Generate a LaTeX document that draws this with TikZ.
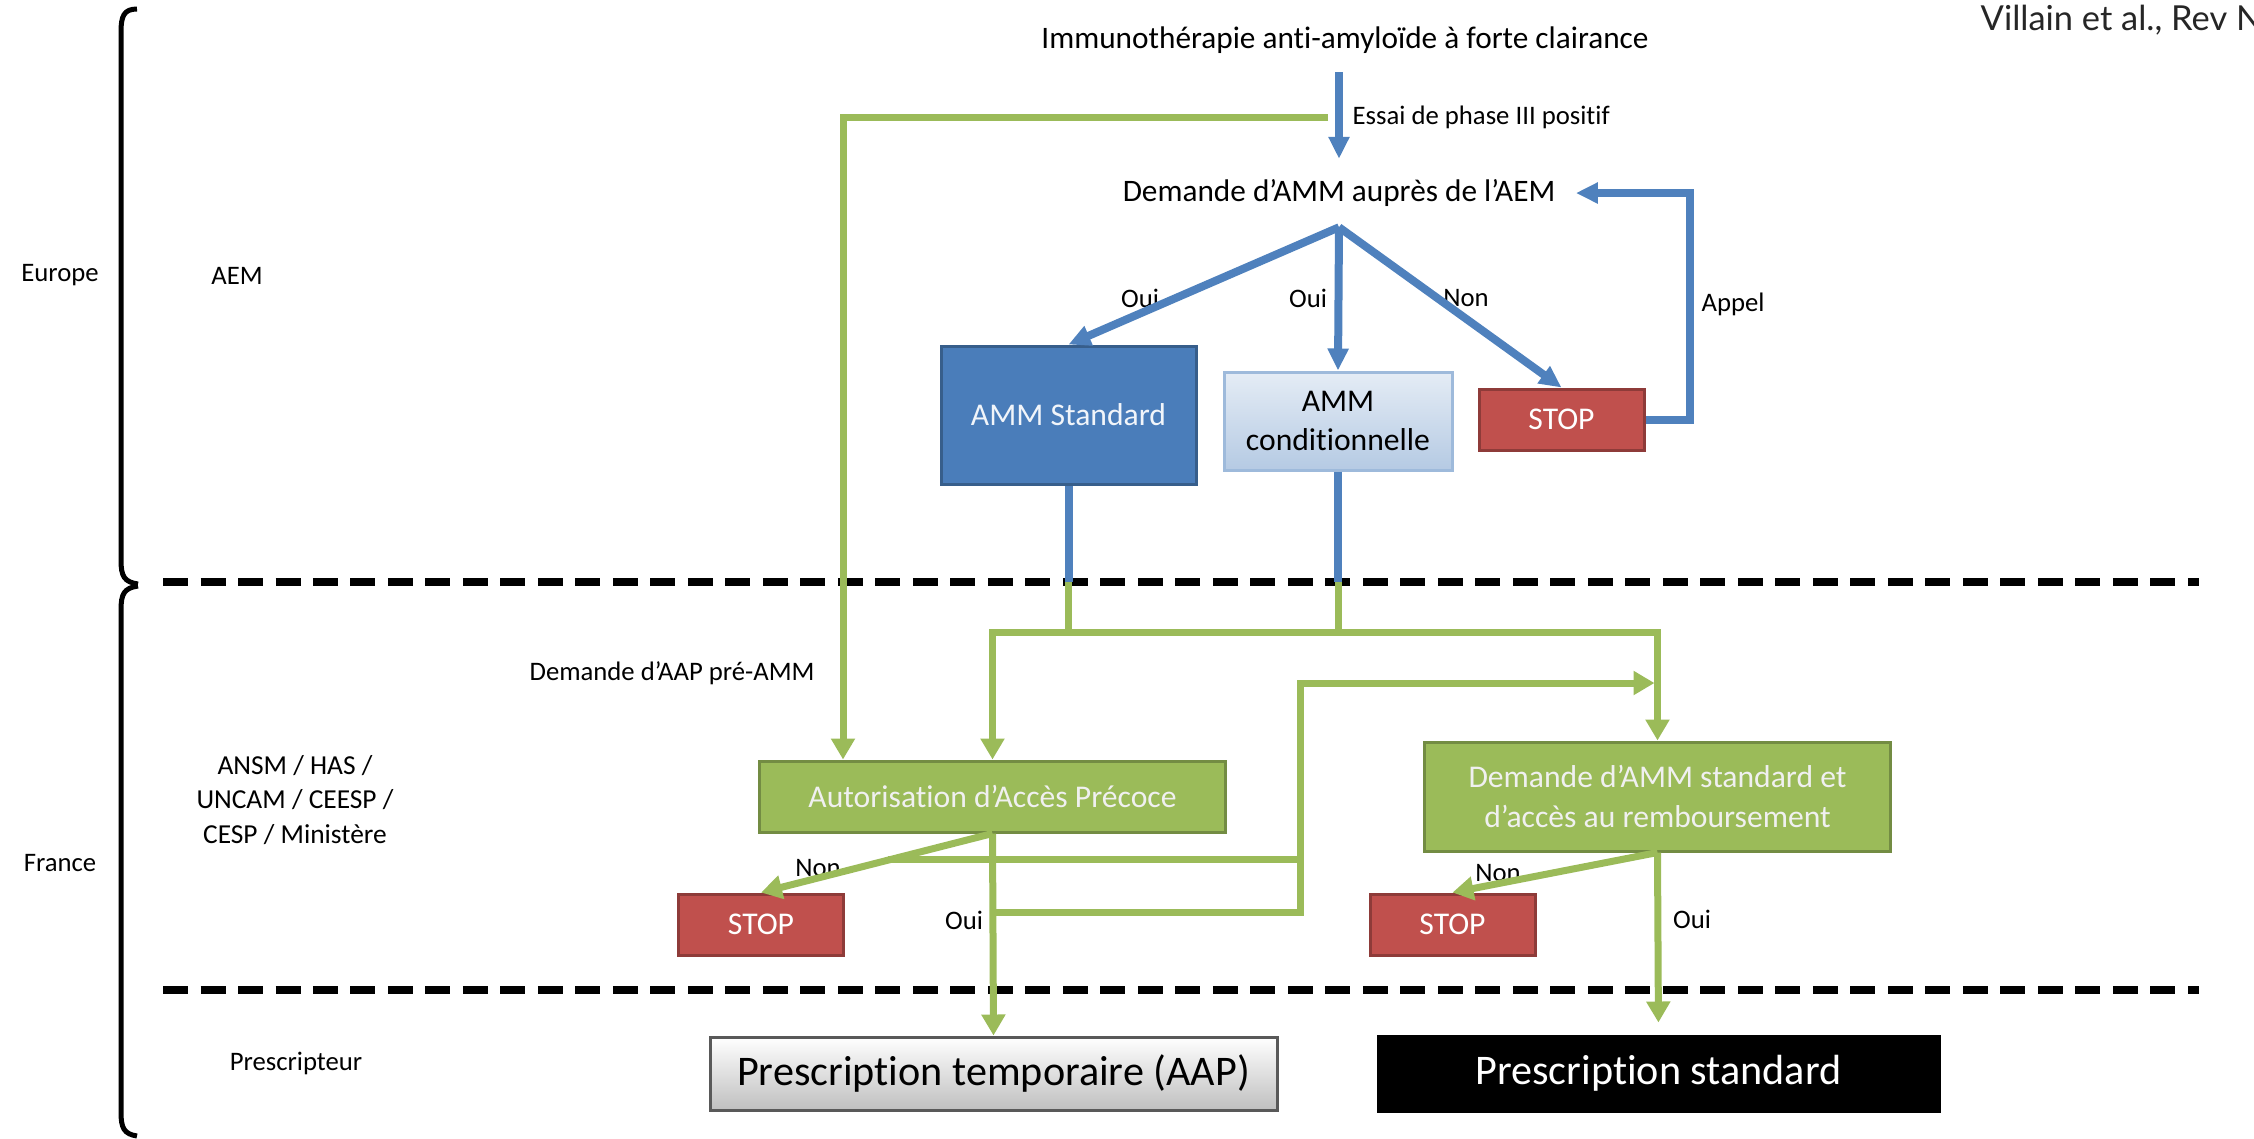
\documentclass[tikz,border=0pt]{standalone}
\usepackage{fontspec}
\setmainfont{Carlito}[Ligatures=NoCommon]
\newfontfamily\reffont{Lato}
\usetikzlibrary{arrows.meta}
\definecolor{bleu}{HTML}{4F81BD}
\definecolor{bleufonce}{HTML}{4A7DBA}
\definecolor{vert}{HTML}{9BBB59}
\definecolor{vertbord}{HTML}{738C43}
\definecolor{rouge}{HTML}{C0504D}
\definecolor{rougebord}{HTML}{8E3B39}
\begin{document}
\begin{tikzpicture}[x=0.1mm,y=-0.1mm,
  every node/.style={inner sep=0pt},
  lbl/.style={font=\fontsize{7.6}{9}\selectfont},
  titre/.style={font=\fontsize{8.9}{10}\selectfont},
  boite/.style={draw, line width=0.3mm, align=center, font=\fontsize{9}{11.2}\selectfont},
  stopbox/.style={boite, fill=rouge, draw=rougebord, text=white, minimum width=16.5mm, minimum height=6.1mm},
  vbox/.style={boite, fill=vert, draw=vertbord, text=white!94!black, minimum width=46.6mm},
  fb/.style={draw=bleu, line width=0.8mm, -{Triangle[length=2.2mm,width=2mm]}},
  fv/.style={draw=vert, line width=0.7mm, -{Triangle[length=2.1mm,width=2.3mm]}},
  lb/.style={draw=bleu, line width=0.8mm},
  lv/.style={draw=vert, line width=0.7mm},
  tirets/.style={line width=0.8mm, dash pattern=on 2.5mm off 1.25mm}]
\useasboundingbox (0,0) rectangle (2254,1138);
\clip (0,0) rectangle (2254,1138);

\draw[line width=0.5mm] (137,9) .. controls (124,9) and (121,16) .. (121,32) -- (121,560) .. controls (121,576) and (124,582) .. (138,584);
\draw[line width=0.5mm] (138,586) .. controls (124,588) and (121,594) .. (121,610) -- (121,1112) .. controls (121,1128) and (124,1134) .. (137,1136);
\draw[tirets] (163,582) -- (2199,582);
\draw[tirets] (163,990) -- (2199,990);

\node[lbl] (europe) at (60,275) {Europe};
\node[lbl] (aem) at (237,276) {AEM};
\node[lbl] (france) at (60,863) {France};
\node[lbl, align=center, font=\fontsize{7.8}{9.8}\selectfont] (agences) at (295,800) {ANSM / HAS /\\UNCAM / CEESP /\\CESP / Ministère};
\node[lbl] (prescripteur) at (296,1063) {Prescripteur};
\node[anchor=west, font=\reffont\fontsize{9.8}{11}\selectfont, text=black!85] (villain) at (1980,20) {Villain et al., Rev N};

\node[titre, inner sep=1.8mm] (immuno) at (1345,40) {Immunothérapie anti-amyloïde à forte clairance};
\node[titre, inner sep=2mm] (amm) at (1339,193) {Demande d’AMM auprès de l’AEM};
\node[lbl, anchor=west] (essai) at (1352,117) {Essai de phase III positif};

\node[boite, fill=bleufonce, draw=bleufonce!75!black, text=white!92!bleu, minimum width=25.5mm, minimum height=13.8mm] (standard) at (1068.5,415) {AMM Standard};
\node[boite, top color=bleu!15, bottom color=bleu!42, draw=bleu!55, minimum width=22.8mm, minimum height=9.8mm] (cond) at (1338,421) {AMM\\conditionnelle};
\node[stopbox] (stopaem) at (1561.5,419.5) {STOP};

\node[vbox, minimum height=7.1mm] (aap) at (992.5,796.5) {Autorisation d’Accès Précoce};
\node[vbox, minimum height=10.9mm] (dmd) at (1657.5,796.5) {Demande d’AMM standard et\\d’accès au remboursement};
\node[stopbox] (stopaap) at (761,924.5) {STOP};
\node[stopbox] (stopdmd) at (1452.5,924.5) {STOP};

\node[boite, draw=black!65, top color=white, bottom color=black!25, font=\fontsize{12}{14}\selectfont, minimum width=56.7mm, minimum height=7.3mm] (ptemp) at (993.5,1073.5) {Prescription temporaire (AAP)};
\node[boite, fill=black, text=white, font=\fontsize{12}{14}\selectfont, minimum width=56.1mm, minimum height=7.5mm] (pstd) at (1658.5,1073.5) {Prescription standard};

\node[lbl] (oui1) at (1140,298) {Oui};
\node[lbl] (oui2) at (1308,298) {Oui};
\node[lbl] (non1) at (1466,298) {Non};
\node[lbl] (appel) at (1733,304) {Appel};
\node[lbl] (demaap) at (672,673) {Demande d’AAP pré-AMM};
\node[lbl] (non2) at (818,868) {Non};
\node[lbl] (oui3) at (964,920) {Oui};
\node[lbl] (non3) at (1498,873) {Non};
\node[lbl] (oui4) at (1692,919) {Oui};

\coordinate (g0) at (1328,117);
\coordinate (g1) at (843,117);
\coordinate (sep) at (0,582);
\coordinate (h1) at (0,632);
\coordinate (v1) at (1300,683);
\coordinate (rn) at (888,859);
\coordinate (ro) at (992.5,912);
\coordinate (rappel) at (1690,305);

\draw[fb] (immuno.south -| amm.north) -- (amm.north);
\draw[fb] (amm.south) -- (standard.north);
\draw[fb] (amm.south) -- (cond.north);
\draw[fb] (amm.south) -- (stopaem.north);
\draw[fb, line join=miter] (stopaem.east) -| (rappel) |- (amm.east);

\draw[fv, line join=miter] (g0) -- (g1) -- (g1 |- aap.north);

\draw[lb] (standard.south) -- (standard.south |- sep);
\draw[lb] (cond.south) -- (cond.south |- sep);
\draw[lv] (standard.south |- sep) -- (standard.south |- h1);
\draw[lv] (cond.south |- sep) -- (cond.south |- h1);
\draw[fv, {Triangle[length=2.1mm,width=2.3mm]}-{Triangle[length=2.1mm,width=2.3mm]}, line join=miter] (aap.north) |- (dmd.north |- h1) -- (dmd.north);

\draw[fv] (aap.south) -- (stopaap.north);
\draw[fv] (aap.south) -- (ptemp.north);
\draw[lv] (rn) -- (rn -| v1);
\draw[fv, line join=miter, shorten >=0.3mm] (ro) -| (v1) -- (v1 -| dmd.north);

\draw[fv] (dmd.south) -- (stopdmd.north);
\draw[fv, shorten >=1.2mm] (dmd.south) -- (pstd.north);
\end{tikzpicture}
\end{document}
